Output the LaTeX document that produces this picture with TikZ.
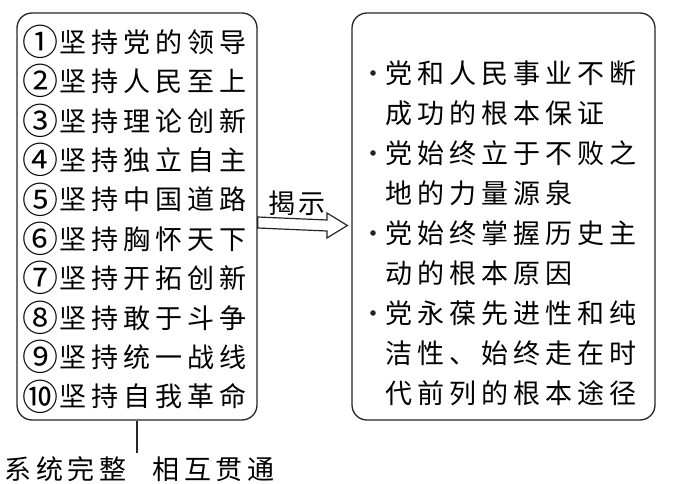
\documentclass[tikz,border=0pt]{standalone}
\usepackage{fontspec}
\setmainfont{Noto Sans CJK SC}
\newlength\chw
\setlength\chw{32pt}
\makeatletter
\def\chs#1{\@chs#1\@nil}
\def\@chs#1{\ifx#1\@nil\else\makebox[\chw]{#1}\expandafter\@chs\fi}
\makeatother
\newcommand\cnum[1]{\makebox[34pt]{\raisebox{-3.2pt}{\fontsize{36pt}{36pt}\selectfont #1}}}
\begin{document}
\begin{tikzpicture}[x=1pt,y=-1pt,
  frame/.style={draw=black!85, line width=1.3pt, rounded corners=15pt, inner sep=0pt},
  txt/.style={anchor=base west, inner sep=0pt, font=\fontsize{27pt}{30pt}\selectfont},
  conn/.style={draw=black!85, line width=1.2pt}]
\useasboundingbox (0,0) rectangle (681,484);
% boxes
\node[frame, minimum width=240pt, minimum height=407pt] (L) at (137,216.5) {};
\node[frame, minimum width=303pt, minimum height=407pt] (R) at (503.5,216.5) {};
% left rows
\node[txt] (r1) at (23,52.3) {\cnum{①}\chs{坚持党的领导}};
\node[txt] (r2) at (23,91.7) {\cnum{②}\chs{坚持人民至上}};
\node[txt] (r3) at (23,131.1) {\cnum{③}\chs{坚持理论创新}};
\node[txt] (r4) at (23,170.5) {\cnum{④}\chs{坚持独立自主}};
\node[txt] (r5) at (23,209.9) {\cnum{⑤}\chs{坚持中国道路}};
\node[txt] (r6) at (23,249.3) {\cnum{⑥}\chs{坚持胸怀天下}};
\node[txt] (r7) at (23,288.7) {\cnum{⑦}\chs{坚持开拓创新}};
\node[txt] (r8) at (23,328.1) {\cnum{⑧}\chs{坚持敢于斗争}};
\node[txt] (r9) at (23,367.5) {\cnum{⑨}\chs{坚持统一战线}};
\node[txt] (r10) at (23,406.9) {\cnum{⑩}\chs{坚持自我革命}};
% right lines
\foreach \y in {73,153,233,313} \fill[black!85] (373,\y) circle (2.8pt);
\node[txt] (p1) at (383,83.3) {\chs{党和人民事业不断}};
\node[txt] (p2) at (383,123.3) {\chs{成功的根本保证}};
\node[txt] (p3) at (383,163.3) {\chs{党始终立于不败之}};
\node[txt] (p4) at (383,203.3) {\chs{地的力量源泉}};
\node[txt] (p5) at (383,243.3) {\chs{党始终掌握历史主}};
\node[txt] (p6) at (383,283.3) {\chs{动的根本原因}};
\node[txt] (p7) at (383,323.3) {\chs{党永葆先进性和纯}};
\node[txt] (p8) at (383,363.3) {\chs{洁性、始终走在时}};
\node[txt] (p9) at (383,403.3) {\chs{代前列的根本途径}};
% arrow label
\node[txt, anchor=base] (lab) at (297,213.3) {\setlength\chw{30pt}\chs{揭示}};
% hollow arrow
\draw[conn, line width=1.2pt, line join=miter]
  ([yshift=3pt]L.east |- 0,220) -- (327,220) -- (327,213) -- ([xshift=-4pt]R.west |- 0,225.5)
  -- (327,238) -- (327,231) -- ([yshift=3pt]L.east |- 0,231) -- cycle;
% bottom
\coordinate (B) at (137,453);
\draw[conn] (L.south) -- (B);
\node[txt] (s1) at (2.5,479.3) {\setlength\chw{31.5pt}\chs{系统完整}};
\node[txt] (s2) at (150.5,479.3) {\setlength\chw{31.5pt}\chs{相互贯通}};
\end{tikzpicture}
\end{document}
